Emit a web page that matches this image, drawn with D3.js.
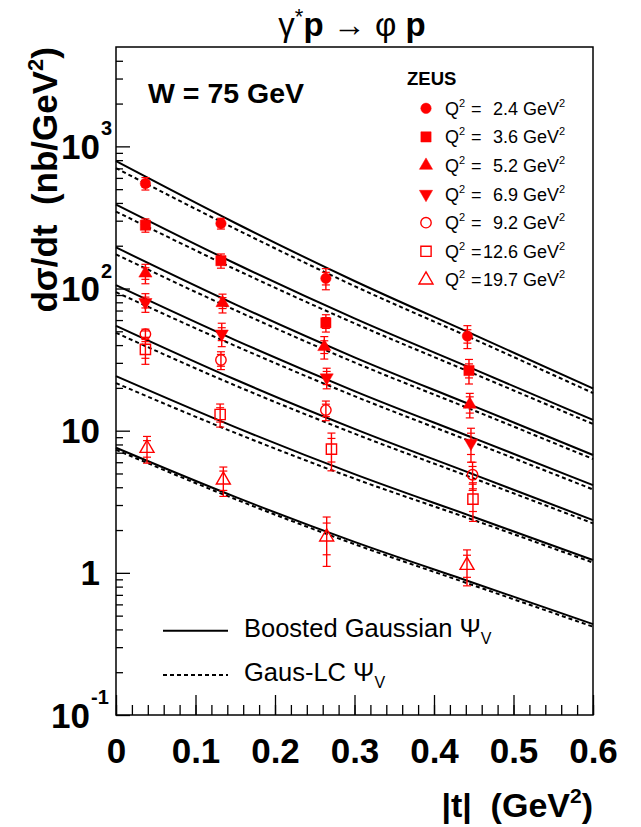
<!DOCTYPE html>
<html>
<head>
<meta charset="utf-8">
<script src="https://cdn.jsdelivr.net/npm/d3@7"></script>
<style>
  body { margin: 0; background: #fff; }
  text { font-family: "Liberation Sans", Arial, Helvetica, sans-serif; }
</style>
</head>
<body>
<svg id="chart" width="641" height="827"></svg>
<script>
// ZEUS phi data, W = 75 GeV, one row per Q^2 bin
var q2Values = ["2.4", "3.6", "5.2", "6.9", "9.2", "12.6", "19.7"];

var tData = [
  [0.037, 0.132, 0.264, 0.442],
  [0.037, 0.132, 0.264, 0.444],
  [0.037, 0.134, 0.262, 0.445],
  [0.037, 0.133, 0.265, 0.4465],
  [0.037, 0.132, 0.264, 0.4485],
  [0.037, 0.131, 0.271, 0.449],
  [0.039, 0.135, 0.265, 0.4415]
];
var xsData = [
  [548, 287, 118, 46.3],
  [279, 157, 57.4, 26.5],
  [128, 79.3, 38.9, 15.3],
  [80, 48, 23.6, 8.2],
  [47.8, 31.4, 13.96, 4.9],
  [37.3, 13.0, 7.42, 3.3],
  [7.51, 4.5, 1.79, 1.13]
];
// total errors (outer caps) and statistical errors (inner caps)
var errTot = [
  [55, 25, 20, 8.5],
  [30, 18, 8, 5.2],
  [20, 12, 7, 3],
  [12, 9, 3.9, 2.2],
  [4, 4.5, 2.2, 1.1],
  [8, 2.4, 2.2, 1.0],
  [1.6, 1.05, 0.68, 0.32]
];
var errStat = [
  [30, 15, 12, 5],
  [18, 10, 5, 3],
  [12, 7, 4, 2],
  [7, 5, 2.5, 1.4],
  [2.5, 3, 1.4, 0.7],
  [5, 1.5, 1.4, 0.6],
  [1.0, 0.7, 0.45, 0.2]
];

// dipole model curves
var tTheory = [0, 0.15, 0.3, 0.45, 0.6];
var bgTheory = [
  [787, 289, 113, 47.4, 19.8],
  [390, 150, 61.7, 27.1, 11.9],
  [194.5, 77.4, 32.8, 14.9, 6.74],
  [105.6, 43.4, 19.0, 8.87, 4.14],
  [54.7, 22.9, 10.3, 4.92, 2.35],
  [24.2, 10.6, 4.95, 2.47, 1.23],
  [7.58, 3.42, 1.65, 0.849, 0.436]
];
var lcTheory = [
  [703, 263, 104, 44.1, 18.4],
  [348, 136.5, 56.9, 25.2, 11.15],
  [173.7, 70.4, 30.2, 13.9, 6.32],
  [94.3, 39.5, 17.5, 8.25, 3.86],
  [48.8, 20.8, 9.53, 4.62, 2.23],
  [21.6, 9.65, 4.6, 2.35, 1.18],
  [7.34, 3.30, 1.59, 0.815, 0.418]
];

var xTicks = [0, 0.1, 0.2, 0.3, 0.4, 0.5, 0.6];
var yDecades = [0.1, 1, 10, 100, 1000];
var yTickBase = ["10", "1", "10", "10", "10"];
var yTickSup = ["-1", "", "", "2", "3"];

var svg = d3.select("#chart");
var margin = {top: 47, right: 48, bottom: 112, left: 116};
var width = 641 - margin.left - margin.right;
var height = 827 - margin.top - margin.bottom;

var x = d3.scaleLinear().domain([0, 0.6]).range([0, width]);
var y = d3.scaleLog().domain([0.1, 5000]).range([height, 0]);

var g = svg.append("g")
  .attr("transform", `translate(${margin.left}, ${margin.top})`);

// minor tick positions
var yMinor = [];
yDecades.forEach(function(d) {
  for (var k = 2; k <= 9; k++) {
    if (d * k < 5000) yMinor.push(d * k);
  }
});
var xMinor = d3.range(0, 0.6001, 0.02);

function tickStyle(sel) {
  sel.select(".domain").remove();
  sel.selectAll(".tick line").attr("stroke", "#000").attr("stroke-width", 1.3);
}

g.append("g").call(d3.axisLeft(y).tickValues(yMinor).tickSize(-7).tickFormat("")).call(tickStyle);
g.append("g").call(d3.axisLeft(y).tickValues(yDecades).tickSize(-14).tickFormat("")).call(tickStyle);

g.append("g").attr("transform", `translate(0, ${height})`)
  .call(d3.axisBottom(x).tickValues(xMinor).tickSize(-10).tickFormat("")).call(tickStyle);
var xAxis = g.append("g").attr("transform", `translate(0, ${height})`)
  .call(d3.axisBottom(x).tickValues(xTicks).tickSize(-20).tickPadding(23)
    .tickFormat(function(d) { return d === 0 ? "0" : d3.format(".1f")(d); }))
  .call(tickStyle);
xAxis.selectAll(".tick text")
  .attr("font-family", "Liberation Sans, Arial, sans-serif")
  .attr("font-size", 35).attr("font-weight", "bold").attr("fill", "#000");

// y tick labels (10^n style)
yDecades.forEach(function(v, i) {
  var xr = (i === 0) ? -26 : -16;
  g.append("text")
    .attr("x", xr).attr("y", y(v)).attr("dy", "0.36em")
    .attr("text-anchor", "end")
    .attr("font-size", 35).attr("font-weight", "bold")
    .text(yTickBase[i]);
  if (yTickSup[i]) {
    g.append("text")
      .attr("x", xr + 1).attr("y", y(v) - 11)
      .attr("font-size", 20).attr("font-weight", "bold")
      .text(yTickSup[i]);
  }
});

// frame
g.append("rect")
  .attr("width", width).attr("height", height)
  .attr("fill", "none").attr("stroke", "#000").attr("stroke-width", 1.5);

// theory curves
var line = d3.line()
  .x(function(d, i) { return x(tTheory[i]); })
  .y(function(d) { return y(d); })
  .curve(d3.curveMonotoneX);

bgTheory.forEach(function(s) {
  g.append("path").attr("d", line(s))
    .attr("fill", "none").attr("stroke", "#000").attr("stroke-width", 2);
});
lcTheory.forEach(function(s) {
  g.append("path").attr("d", line(s))
    .attr("fill", "none").attr("stroke", "#000").attr("stroke-width", 2)
    .attr("stroke-dasharray", "4,3");
});

// markers
var red = "#ff0000";
var markerStyle = [
  {type: d3.symbolCircle, size: 85, fill: true, rot: 0},
  {type: d3.symbolSquare, size: 105, fill: true, rot: 0},
  {type: d3.symbolTriangle, size: 75, fill: true, rot: 0},
  {type: d3.symbolTriangle, size: 75, fill: true, rot: 180},
  {type: d3.symbolCircle, size: 85, fill: false, rot: 0},
  {type: d3.symbolSquare, size: 105, fill: false, rot: 0},
  {type: d3.symbolTriangle, size: 85, fill: false, rot: 0}
];

function drawMarker(parent, s, cx, cy) {
  parent.append("path")
    .attr("d", d3.symbol().type(s.type).size(s.size)())
    .attr("transform", `translate(${cx}, ${cy}) rotate(${s.rot})`)
    .attr("fill", s.fill ? red : "none")
    .attr("stroke", red).attr("stroke-width", s.fill ? 0.5 : 1.4);
}

xsData.forEach(function(series, si) {
  var eg = g.append("g");
  series.forEach(function(v, j) {
    var cx = x(tData[si][j]);
    var tot = errTot[si][j], st = errStat[si][j];
    var yTop = y(v + tot), yBot = y(Math.max(v - tot, 0.11));
    eg.append("line").attr("x1", cx).attr("x2", cx).attr("y1", yTop).attr("y2", yBot)
      .attr("stroke", red).attr("stroke-width", 1.4);
    [v + tot, v - tot, v + st, v - st].forEach(function(e) {
      if (e <= 0.1) return;
      eg.append("line").attr("x1", cx - 4).attr("x2", cx + 4)
        .attr("y1", y(e)).attr("y2", y(e))
        .attr("stroke", red).attr("stroke-width", 1.2);
    });
  });
  series.forEach(function(v, j) {
    drawMarker(eg, markerStyle[si], x(tData[si][j]), y(v));
  });
});

// legend: data
svg.append("text").attr("x", 407).attr("y", 85)
  .attr("font-size", 18.5).attr("font-weight", "bold").text("ZEUS");

q2Values.forEach(function(q, i) {
  var cy = 108.3 + i * 28.6;
  drawMarker(svg, markerStyle[i], 426, cy);
  var base = cy + 6.5;
  var t1 = svg.append("text").attr("x", 445).attr("y", base).attr("font-size", 18);
  t1.append("tspan").text("Q");
  t1.append("tspan").attr("dy", -8).attr("font-size", 11).text("2");
  svg.append("text").attr("x", 471).attr("y", base).attr("font-size", 18).text("=");
  svg.append("text").attr("x", 518).attr("y", base).attr("font-size", 18)
    .attr("text-anchor", "end").text(q);
  var t2 = svg.append("text").attr("x", 523).attr("y", base).attr("font-size", 18);
  t2.append("tspan").text("GeV");
  t2.append("tspan").attr("dy", -8).attr("font-size", 11).text("2");
});

// legend: curves
var legLines = [
  {y: 630.7, dash: null, label: "Boosted Gaussian "},
  {y: 675, dash: "4,3", label: "Gaus-LC "}
];
legLines.forEach(function(l) {
  svg.append("line").attr("x1", 163).attr("x2", 228).attr("y1", l.y).attr("y2", l.y)
    .attr("stroke", "#000").attr("stroke-width", 2)
    .attr("stroke-dasharray", l.dash);
  var t = svg.append("text").attr("x", 244).attr("y", l.y + 6).attr("font-size", 25.5)
    .style("white-space", "pre");
  t.append("tspan").text(l.label + "\u03A8");
  t.append("tspan").attr("dy", 7).attr("font-size", 16).text("V");
});

// W label
svg.append("text").attr("x", 148).attr("y", 103)
  .attr("font-size", 28.5).attr("font-weight", "bold").text("W = 75 GeV");

// title
var title = svg.append("text").attr("x", 352).attr("y", 36)
  .attr("text-anchor", "middle").attr("font-size", 33).style("white-space", "pre");
title.append("tspan").text("\u03B3");
title.append("tspan").attr("dy", -12).attr("font-size", 22).text("*");
title.append("tspan").attr("dy", 12).attr("font-weight", "bold").text("p");
title.append("tspan").text(" \u2192 \u03C6 ");
title.append("tspan").attr("font-weight", "bold").text("p");

// axis titles
var yTitle = svg.append("text")
  .attr("transform", "translate(57, 47) rotate(-90)")
  .attr("text-anchor", "end").attr("font-size", 35).attr("font-weight", "bold")
  .style("white-space", "pre");
yTitle.append("tspan").text("d\u03C3/dt  (nb/GeV");
yTitle.append("tspan").attr("dy", -14).attr("font-size", 22).text("2");
yTitle.append("tspan").attr("dy", 14).text(")");

var xTitle = svg.append("text").attr("x", 593).attr("y", 817)
  .attr("text-anchor", "end").attr("font-size", 34).attr("font-weight", "bold")
  .style("white-space", "pre");
xTitle.append("tspan").text("|t|  (GeV");
xTitle.append("tspan").attr("dy", -14).attr("font-size", 21).text("2");
xTitle.append("tspan").attr("dy", 14).text(")");
</script>
</body>
</html>
